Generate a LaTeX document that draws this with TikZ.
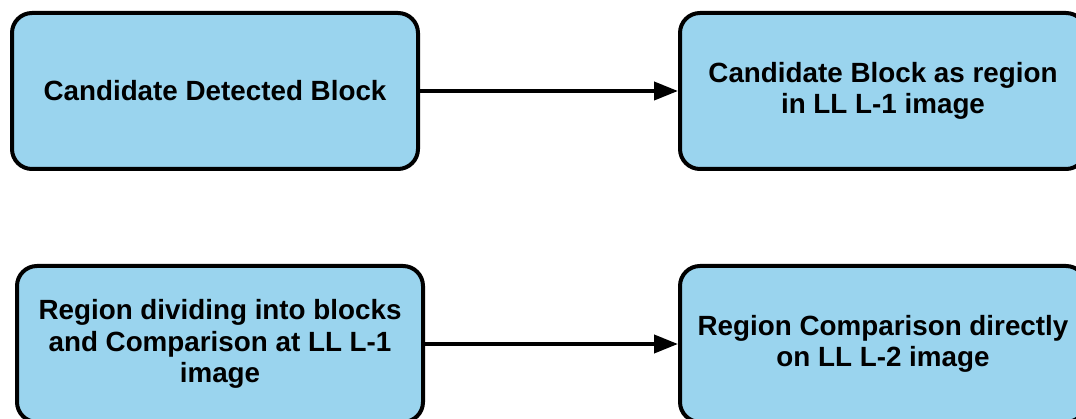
\documentclass[tikz,border=0pt]{standalone}
\usepackage{fontspec}
\setmainfont{Liberation Sans}
\usetikzlibrary{arrows.meta}
\definecolor{boxblue}{RGB}{154,212,238}
\begin{document}
\begin{tikzpicture}[x=1pt,y=-1pt,
  blockbox/.style={draw=black, line width=4pt, fill=boxblue, rounded corners=20pt,
    minimum width=406pt, minimum height=156pt, align=center,
    font=\fontsize{27.8}{31.5}\selectfont\bfseries, inner sep=0pt},
  flow/.style={line width=4pt, -{Triangle[length=24pt,width=18pt]}}]
\useasboundingbox (0,0) rectangle (1076,419);
\clip (0,0) rectangle (1076,419);
\node[blockbox] (tl) at (215,91) {Candidate Detected Block};
\node[blockbox] (tr) at (883,91) {Candidate Block as region\\in LL L-1 image};
\node[blockbox] (bl) at (220,344) {Region dividing into blocks\\and Comparison at LL L-1\\image};
\node[blockbox] (br) at (883,344) {Region Comparison directly\\on LL L-2 image};
\draw[flow] (tl.east) -- (tr.west);
\draw[flow] (bl.east) -- (br.west);
\end{tikzpicture}
\end{document}
